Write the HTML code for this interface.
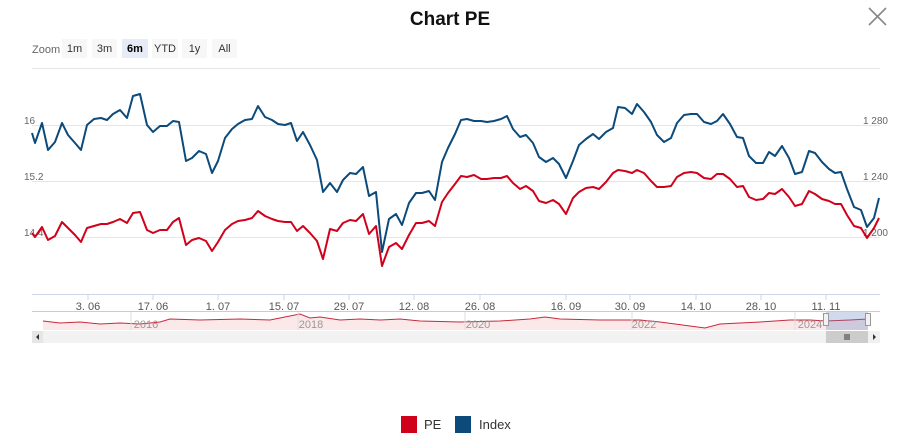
<!DOCTYPE html>
<html><head><meta charset="utf-8"><style>
html,body{margin:0;padding:0;background:#fff;}
svg{display:block;font-family:"Liberation Sans",sans-serif;}
</style></head><body>
<svg width="900" height="443" viewBox="0 0 900 443" xmlns="http://www.w3.org/2000/svg">
<rect width="900" height="443" fill="#fff"/>
<text x="450" y="25" text-anchor="middle" font-size="19" font-weight="bold" fill="#111">Chart PE</text>
<path d="M869 8 L886 25 M886 8 L869 25" stroke="#888" stroke-width="1.6"/>
<text x="32" y="53" font-size="11" fill="#666">Zoom</text>
<g font-size="11" fill="#333" text-anchor="middle">
<rect x="62" y="39" width="25" height="19" fill="#f7f7f7"/><text x="74.5" y="52">1m</text>
<rect x="92" y="39" width="25" height="19" fill="#f7f7f7"/><text x="104.5" y="52">3m</text>
<rect x="122" y="39" width="26" height="19" fill="#e6ebf5"/><text x="135" y="52" font-weight="bold" fill="#000">6m</text>
<rect x="152" y="39" width="26" height="19" fill="#f7f7f7"/><text x="165" y="52">YTD</text>
<rect x="182" y="39" width="25" height="19" fill="#f7f7f7"/><text x="194.5" y="52">1y</text>
<rect x="212" y="39" width="25" height="19" fill="#f7f7f7"/><text x="224.5" y="52">All</text>
</g>
<line x1="32" y1="68.5" x2="880" y2="68.5" stroke="#e6e6e6"/>
<g stroke="#e6e6e6" stroke-width="1">
<line x1="32" y1="125.5" x2="880" y2="125.5"/>
<line x1="32" y1="181.5" x2="880" y2="181.5"/>
<line x1="32" y1="237.5" x2="880" y2="237.5"/>
</g>
<g font-size="10" fill="#666">
<text x="24" y="124">16</text>
<text x="24" y="180">15.2</text>
<text x="24" y="236">14.4</text>
<text x="888" y="124" text-anchor="end">1 280</text>
<text x="888" y="180" text-anchor="end">1 240</text>
<text x="888" y="236" text-anchor="end">1 200</text>
</g>
<polyline fill="none" stroke="#0b4a7a" stroke-width="2" stroke-linejoin="round" points="32,133 35,143 42,123 48,150 55,142 62,123 68,135 75,143 81,150 87,125 94,119 101,118 107,120 113,114 120,110 127,118 133,96 140,94 147,125 153,132 160,126 167,126 173,121 179,122 186,161 192,158 199,151 206,154 212,173 218,161 225,138 232,129 238,124 245,120 252,119 258,106 265,117 272,120 278,124 285,125 291,123 297,141 303,132 310,145 317,160 323,192 330,183 337,192 343,180 350,173 356,174 363,167 369,196 376,192 382,252 389,219 396,214 402,225 409,203 416,193 422,193 429,191 435,200 442,162 448,148 455,134 461,120 467,119 474,121 481,121 487,122 494,121 501,119 507,116 513,129 520,137 526,135 533,143 539,157 546,162 553,158 559,164 566,178 573,161 579,145 586,139 593,134 599,139 606,132 613,128 618,107 625,108 632,114 637,104 644,112 651,122 657,135 664,142 671,138 677,123 684,115 691,114 697,114 704,122 711,124 717,121 723,114 730,124 737,137 743,138 749,156 756,163 763,163 769,152 775,156 782,146 789,158 795,174 802,172 809,151 815,153 822,162 829,169 835,173 841,172 847,189 854,207 861,210 867,227 874,218 879,198"/>
<polyline fill="none" stroke="#d0021b" stroke-width="2" stroke-linejoin="round" points="32,233 35,237 42,227 48,240 55,236 62,222 68,228 75,235 81,242 87,228 94,226 101,224 107,224 113,222 120,219 127,223 133,213 140,212 147,230 153,233 160,230 167,230 173,222 179,218 186,245 192,240 199,238 206,241 212,251 218,242 225,230 232,224 238,221 245,220 252,218 258,211 265,216 272,219 278,221 285,222 291,222 297,231 303,226 310,233 317,241 323,259 330,229 337,231 343,223 350,220 356,221 363,214 369,234 376,226 382,266 389,247 396,243 402,249 409,235 416,223 422,223 429,221 435,226 442,202 448,193 455,184 461,176 467,177 474,175 481,179 487,179 494,178 501,178 507,176 513,183 520,189 526,186 533,191 539,201 546,203 553,200 559,204 566,214 573,198 579,192 586,188 593,187 599,189 606,182 613,173 618,170 625,171 632,173 637,170 644,173 651,181 657,187 664,187 671,186 677,177 684,173 691,172 697,173 704,178 711,179 717,174 723,174 730,179 737,187 743,186 749,197 756,200 763,199 769,193 775,194 782,189 789,197 795,206 802,204 809,191 815,194 822,199 829,201 835,204 841,204 847,215 854,226 861,228 867,238 874,228 879,218"/>
<line x1="32" y1="294.5" x2="880" y2="294.5" stroke="#ccd6eb"/>
<g stroke="#ccd6eb">
<line x1="88" y1="295" x2="88" y2="300"/><line x1="153" y1="295" x2="153" y2="300"/><line x1="218" y1="295" x2="218" y2="300"/><line x1="284" y1="295" x2="284" y2="300"/><line x1="349" y1="295" x2="349" y2="300"/><line x1="414" y1="295" x2="414" y2="300"/><line x1="480" y1="295" x2="480" y2="300"/><line x1="566" y1="295" x2="566" y2="300"/><line x1="630" y1="295" x2="630" y2="300"/><line x1="696" y1="295" x2="696" y2="300"/><line x1="761" y1="295" x2="761" y2="300"/><line x1="826" y1="295" x2="826" y2="300"/>
</g>
<g font-size="11" fill="#555" text-anchor="middle">
<text x="88" y="310">3. 06</text><text x="153" y="310">17. 06</text><text x="218" y="310">1. 07</text><text x="284" y="310">15. 07</text><text x="349" y="310">29. 07</text><text x="414" y="310">12. 08</text><text x="480" y="310">26. 08</text><text x="566" y="310">16. 09</text><text x="630" y="310">30. 09</text><text x="696" y="310">14. 10</text><text x="761" y="310">28. 10</text><text x="826" y="310">11. 11</text>
</g>
<line x1="32" y1="311.5" x2="880" y2="311.5" stroke="#ccc"/>
<path d="M43,321 L60,323 80,322 100,324 120,323 140,324 160,322 170,319 200,320 240,319 270,320 290,316 300,314 310,318 320,317 340,320 360,319 380,320 400,319 420,321 460,322 500,321 530,319 545,317 560,319 600,320 640,320 660,322 690,326 705,328 720,324 760,322 790,320 810,320 826,321 850,320 868,319 L868,330 L43,330 Z" fill="#fbe9ea"/>
<polyline fill="none" stroke="#c62a3c" stroke-width="1" points="43,321 60,323 80,322 100,324 120,323 140,324 160,322 170,319 200,320 240,319 270,320 290,316 300,314 310,318 320,317 340,320 360,319 380,320 400,319 420,321 460,322 500,321 530,319 545,317 560,319 600,320 640,320 660,322 690,326 705,328 720,324 760,322 790,320 810,320 826,321 850,320 868,319"/>
<g stroke="#ddd"><line x1="131" y1="312" x2="131" y2="330"/><line x1="298" y1="312" x2="298" y2="330"/><line x1="465" y1="312" x2="465" y2="330"/><line x1="632" y1="312" x2="632" y2="330"/><line x1="795" y1="312" x2="795" y2="330"/></g>
<g font-size="11" fill="#999" text-anchor="middle"><text x="146" y="328">2016</text><text x="311" y="328">2018</text><text x="478" y="328">2020</text><text x="644" y="328">2022</text><text x="810" y="328">2024</text></g>
<rect x="826" y="312" width="42" height="18" fill="rgba(102,133,194,0.3)"/>
<rect x="823.5" y="313.5" width="5" height="12" fill="#f2f2f2" stroke="#999"/>
<rect x="865.5" y="313.5" width="5" height="12" fill="#f2f2f2" stroke="#999"/>
<rect x="32" y="331" width="848" height="12" fill="#f2f2f2"/>
<rect x="32" y="331" width="11" height="12" fill="#e6e6e6"/>
<path d="M39,334 L36,337 39,340 Z" fill="#333"/>
<rect x="826" y="331" width="42" height="12" fill="#ccc"/>
<g stroke="#333"><line x1="845" y1="334" x2="845" y2="340"/><line x1="847" y1="334" x2="847" y2="340"/><line x1="849" y1="334" x2="849" y2="340"/></g>
<rect x="869" y="331" width="11" height="12" fill="#f0f0f0"/>
<path d="M873,334 L876,337 873,340 Z" fill="#333"/>
<rect x="401" y="416" width="16" height="17" fill="#d0021b"/>
<text x="424" y="429" font-size="13" fill="#333">PE</text>
<rect x="455" y="416" width="16" height="17" fill="#0b4a7a"/>
<text x="479" y="429" font-size="13" fill="#333">Index</text>
</svg>
</body></html>
